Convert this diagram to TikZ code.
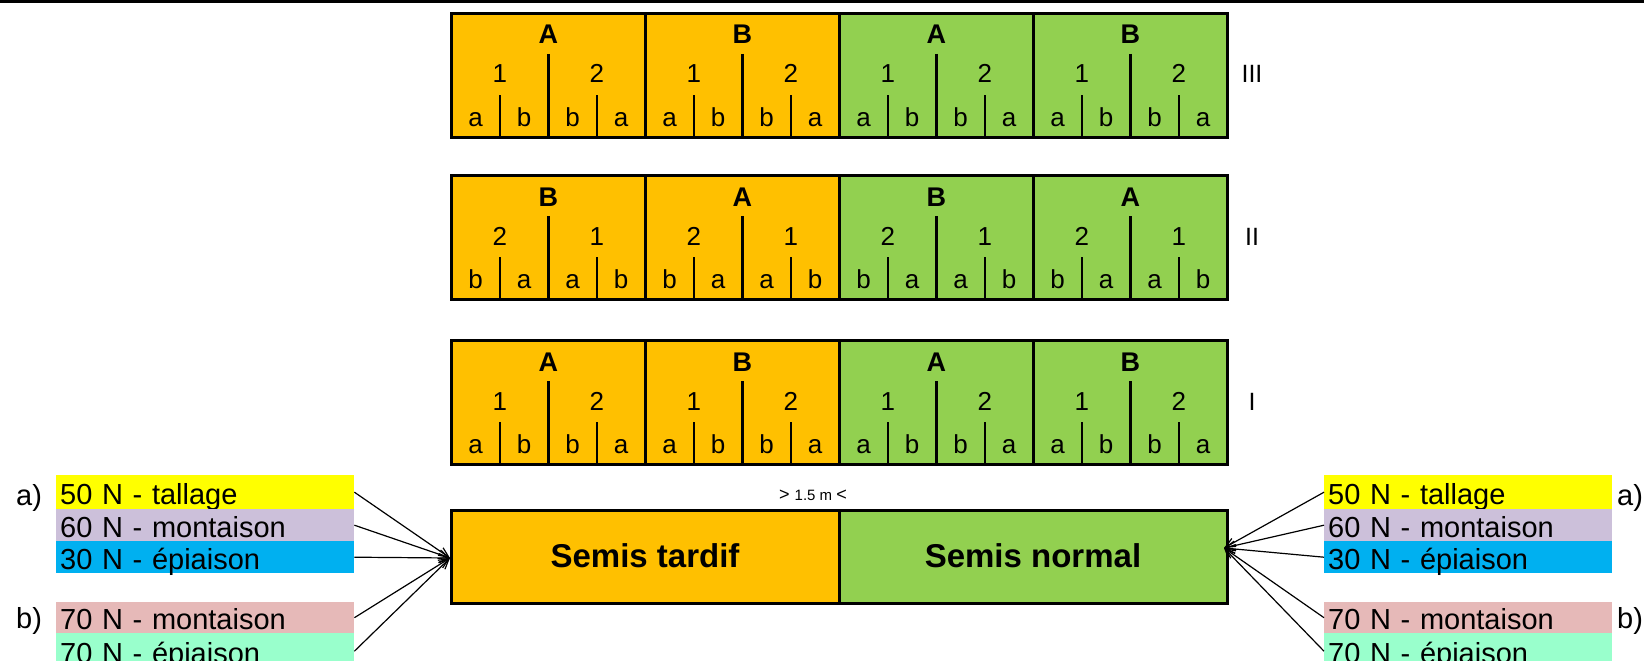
\documentclass[tikz,border=0pt]{standalone}
\usepackage{fontspec}
\setmainfont{Liberation Sans}
\usetikzlibrary{calc,arrows.meta}
\definecolor{orangec}{HTML}{FFC000}
\definecolor{greenc}{HTML}{92D050}
\definecolor{yellowc}{HTML}{FFFF00}
\definecolor{lavc}{HTML}{CCC0DA}
\definecolor{bluec}{HTML}{00B0F0}
\definecolor{pinkc}{HTML}{E6B9B8}
\definecolor{mintc}{HTML}{99FFCC}
\tikzset{
 cell/.style={draw=black, line width=2.6pt, minimum width=194pt, minimum height=124pt, inner sep=0pt, anchor=north west},
 bigl/.style={font=\fontsize{27}{32}\selectfont\bfseries, inner sep=0pt, anchor=base},
 num/.style={font=\fontsize{26}{31}\selectfont, inner sep=0pt, anchor=base},
 divl/.style={line width=2.5pt},
 legL/.style={anchor=north west, minimum width=298pt, text width=290pt, align=left, inner xsep=4pt, inner ysep=0pt, text height=24pt, text depth=0pt, font=\fontsize{29}{34}\selectfont},
 legR/.style={legL, minimum width=288pt, text width=280pt},
 lab/.style={font=\fontsize{29}{34}\selectfont, inner sep=0pt, anchor=base west},
 sowbox/.style={draw=black, line width=2.6pt, minimum width=388pt, minimum height=93pt, inner sep=0pt, anchor=north west},
 arr/.style={line width=1.2pt, -{Straight Barb[length=10pt,width=9pt]}},
}
% #1 top, #2 name, #3 L1, #4 L2, #5 n1, #6 n2, #7 s1, #8 s2, #9 roman
\newcommand\plotrow[9]{%
 \foreach \i/\c in {0/orangec,1/orangec,2/greenc,3/greenc}{%
  \node[cell,fill=\c] (#2-\i) at ({450+194*\i},#1) {};
 }
 \foreach \i/\L in {0/#3,1/#4,2/#3,3/#4}{%
  \node[bigl] (#2-\i-L) at ($(#2-\i.north)+(0,32)$) {\L};
  \draw[divl] ($(#2-\i.north)+(0,42)$) coordinate (#2-\i-da) -- (#2-\i.south);
  \draw[divl] ($(#2-\i.north)+(-48.5,83)$) coordinate (#2-\i-db) -- ($(#2-\i.south)+(-48.5,0)$) coordinate (#2-\i-dbe);
  \draw[divl] ($(#2-\i.north)+(48.5,83)$) coordinate (#2-\i-dc) -- ($(#2-\i.south)+(48.5,0)$) coordinate (#2-\i-dce);
  \node[num] (#2-\i-n1) at ($(#2-\i.north)+(-48.5,71)$) {#5};
  \node[num] (#2-\i-n2) at ($(#2-\i.north)+(48.5,71)$) {#6};
  \node[num] (#2-\i-s1) at ($(#2-\i.north)+(-72.75,114)$) {#7};
  \node[num] (#2-\i-s2) at ($(#2-\i.north)+(-24.25,114)$) {#8};
  \node[num] (#2-\i-s3) at ($(#2-\i.north)+(24.25,114)$) {#8};
  \node[num] (#2-\i-s4) at ($(#2-\i.north)+(72.75,114)$) {#7};
 }
 \node[font=\fontsize{25}{29}\selectfont, inner sep=0pt, anchor=base] (#2-rom) at (1252,{#1+71}) {#9};
}
\begin{document}
\begin{tikzpicture}[x=1pt,y=-1pt]
\useasboundingbox (0,0) rectangle (1644,661);
\fill[black] (0,0) rectangle (1644,2.7);

\plotrow{12}{r3}{A}{B}{1}{2}{a}{b}{III}
\plotrow{174}{r2}{B}{A}{2}{1}{b}{a}{II}
\plotrow{339}{r1}{A}{B}{1}{2}{a}{b}{I}

% sowing block
\node[font=\fontsize{18}{21}\selectfont, inner sep=0pt, anchor=base] (dist) at (813,500) {> \fontsize{15}{18}\selectfont 1.5 m \fontsize{18}{21}\selectfont <};
\node[sowbox,fill=orangec] (tardif) at (450,509) {};
\node[sowbox,fill=greenc] (normal) at (838,509) {};
\node[font=\fontsize{33}{38}\selectfont\bfseries, inner sep=0pt, anchor=base] (tardifT) at (645,567) {Semis tardif};
\node[font=\fontsize{33}{38}\selectfont\bfseries, inner sep=0pt, anchor=base] (normalT) at (1033,567) {Semis normal};

\coordinate (tgtL) at (450,558);
\coordinate (tgtR) at (1224,548);

% left legend
\node[legL,fill=yellowc,minimum height=34pt] (l1) at (56,475) {50 N - tallage};
\node[legL,fill=lavc,minimum height=32pt] (l2) at (56,509) {60 N - montaison};
\node[legL,fill=bluec,minimum height=32pt] (l3) at (56,541) {30 N - épiaison};
\node[legL,fill=pinkc,minimum height=31pt] (l4) at (56,602) {70 N - montaison};
\node[legL,fill=mintc,minimum height=36pt] (l5) at (56,633) {70 N - épiaison};
\node[lab] (la) at (16,505) {a)};
\node[lab] (lb) at (16,628) {b)};

% right legend
\node[legR,fill=yellowc,minimum height=34pt] (r1l) at (1324,475) {50 N - tallage};
\node[legR,fill=lavc,minimum height=32pt] (r2l) at (1324,509) {60 N - montaison};
\node[legR,fill=bluec,minimum height=32pt] (r3l) at (1324,541) {30 N - épiaison};
\node[legR,fill=pinkc,minimum height=31pt] (r4l) at (1324,602) {70 N - montaison};
\node[legR,fill=mintc,minimum height=36pt] (r5l) at (1324,633) {70 N - épiaison};
\node[lab] (ra) at (1617,505) {a)};
\node[lab] (rb) at (1617,628) {b)};

\foreach \n in {l1,l2,l3,l4,l5}{\draw[arr] (\n.east) -- (tgtL);}
\foreach \n in {r1l,r2l,r3l,r4l,r5l}{\draw[arr] (\n.west) -- (tgtR);}
\end{tikzpicture}
\end{document}
